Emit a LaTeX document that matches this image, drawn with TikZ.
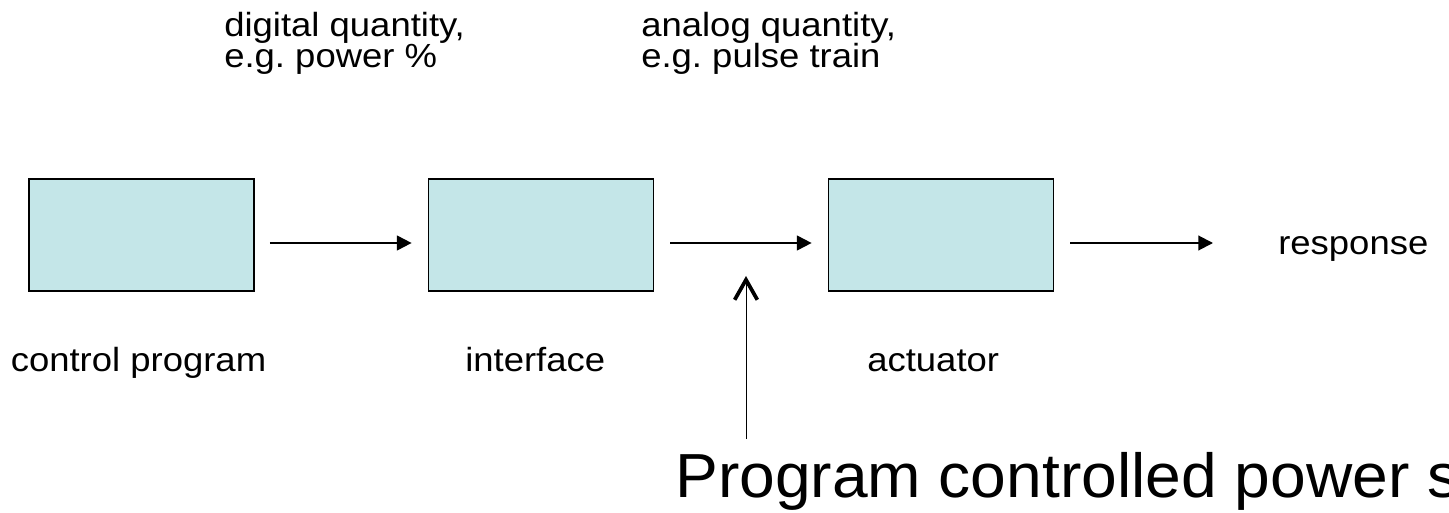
\documentclass[tikz,border=0pt]{standalone}
\usepackage{fontspec}
\setmainfont{Liberation Sans}
\newfontfamily\labelfont[FakeStretch=1.09]{Liberation Sans}
\newfontfamily\titlefont[FakeStretch=1.03]{Liberation Sans}
\usetikzlibrary{arrows.meta,calc}

\definecolor{boxfill}{RGB}{196,230,232}

\tikzset{
  stage/.style={draw=black, line width=1.3pt, fill=boxfill,
    minimum width=168.75pt, minimum height=84pt, inner sep=0pt},
  label/.style={anchor=base west, inner sep=0pt,
    font=\labelfont\frenchspacing\fontsize{25.1}{30}\selectfont},
  biglabel/.style={anchor=base west, inner sep=0pt,
    font=\titlefont\fontsize{46.7}{56}\selectfont},
  flow/.style={line width=1.5pt, -{Triangle[length=11pt,width=11pt]}},
  feed/.style={line width=0.75pt,
    -{Straight Barb[length=15pt,width=17pt,line width=2.8pt]}}
}

\begin{document}
\begin{tikzpicture}[x=0.75pt, y=-0.75pt]
  \useasboundingbox (0,0) rectangle (1449,513);
  \clip (0,0) rectangle (1449,513);

  % signal chain
  \node[stage] (prog) at (141.5,235) {};
  \node[stage] (intf) at (541,235) {};
  \node[stage] (act)  at (941,235) {};

  % captions under the blocks
  \node[label] (progcap) at (10.5,371) {control program};
  \node[label] (intfcap) at (465,371) {interface};
  \node[label] (actcap)  at (867,371) {actuator};
  \node[label] (resp)    at (1278,255) {response};

  % signal descriptions above the links
  \node[label] (dig)  at (224,37) {digital quantity,};
  \node[label] (dig2) at (224,68) {e.g. power \%};
  \node[label] (ana)  at (641,37) {analog quantity,};
  \node[label] (ana2) at (641,68) {e.g. pulse train};

  % links between the blocks
  \draw[flow] ($(prog.east)+(15,8)$) -- ($(intf.west)+(-16,8)$);
  \draw[flow] ($(intf.east)+(16,8)$) -- ($(act.west)+(-16,8)$);
  \draw[flow] ($(act.east)+(16,8)$)  -- ($(resp.base west)+(-65,-12)$);

  % power supply feeding the analog link
  \node[biglabel] (psu) at (675,497) {Program controlled power supply};
  \coordinate (psutop) at (746,439);
  \coordinate (tap) at (746,276);
  \draw[feed] (psutop) -- (tap);
\end{tikzpicture}
\end{document}
